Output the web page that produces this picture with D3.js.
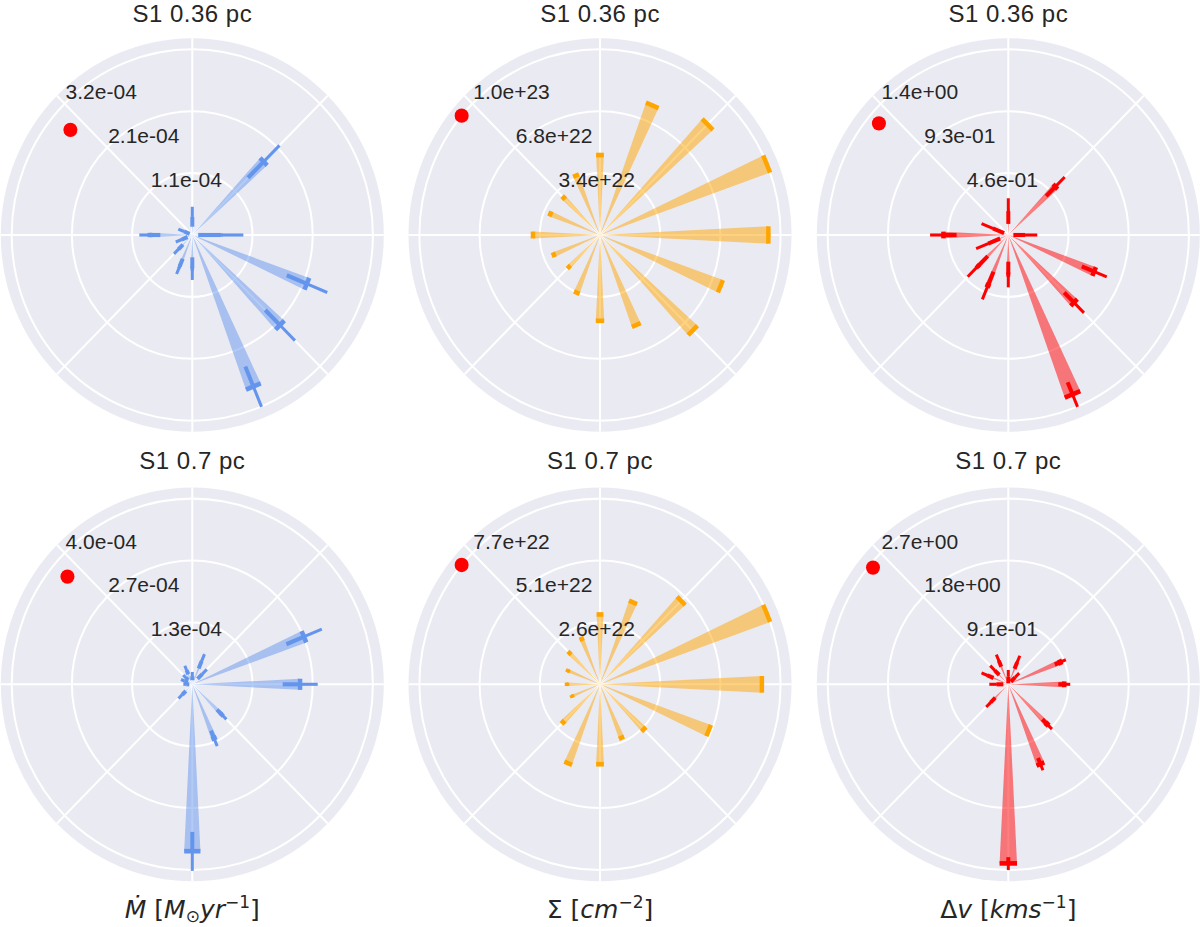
<!DOCTYPE html>
<html>
<head>
<meta charset="utf-8">
<script src="https://cdn.jsdelivr.net/npm/d3@7/dist/d3.min.js"></script>
<style>
body { margin: 0; background: #fff; }
</style>
</head>
<body>
<script>
var w = 1200;
var h = 927;

// 16 directions, degrees counter-clockwise from east
var angles = [0, 22.5, 45, 67.5, 90, 112.5, 135, 157.5, 180, 202.5, 225, 247.5, 270, 292.5, 315, 337.5];

// S1 0.36 pc
var mdot036    = [5.05e-5, 0, 1.79e-4, 0, 3.15e-5, 0, 0, 1.59e-5, 7.53e-5, 2.04e-5, 3.46e-5, 5.85e-5, 5.80e-5, 2.83e-4, 2.20e-4, 2.20e-4];
var mdot036Err = [4.0e-5, 0, 3.95e-5, 0, 1.72e-5, 0, 0, 1.09e-5, 1.86e-5, 1.13e-5, 1.12e-5, 1.42e-5, 1.95e-5, 3.76e-5, 3.73e-5, 3.88e-5];
var sig036     = [9.52e22, 1.02e23, 8.60e22, 7.72e22, 4.40e22, 3.54e22, 2.90e22, 3.04e22, 3.79e22, 2.83e22, 2.49e22, 3.43e22, 4.72e22, 5.36e22, 7.42e22, 7.37e22];
var sig036Err  = [1e21, 1e21, 1e21, 1e21, 5e20, 5e20, 5e20, 5e20, 5e20, 5e20, 5e20, 5e20, 5e20, 5e20, 1e21, 1e21];
var dv036      = [0.131, 0, 0.513, 0, 0.179, 0, 0, 0.129, 0.500, 0.168, 0.333, 0.410, 0.296, 1.293, 0.716, 0.716];
var dv036Err   = [0.092, 0, 0.101, 0, 0.096, 0, 0, 0.094, 0.102, 0.100, 0.109, 0.112, 0.096, 0.100, 0.108, 0.104];

// S1 0.7 pc
var mdot07     = [2.39e-4, 2.68e-4, 3.10e-5, 5.36e-5, 1.77e-5, 3.32e-5, 2.06e-5, 1.88e-5, 1.33e-5, 0, 3.17e-5, 0, 3.60e-4, 1.26e-4, 9.21e-5, 0];
var mdot07Err  = [3.88e-5, 4.25e-5, 1.46e-5, 1.68e-5, 8.9e-6, 1.0e-5, 7.8e-6, 8.2e-6, 6.6e-6, 0, 1.15e-5, 0, 4.2e-5, 1.8e-5, 1.48e-5, 0];
var sig07      = [6.91e22, 7.70e22, 4.90e22, 3.68e22, 2.90e22, 2.04e22, 1.84e22, 1.48e22, 1.41e22, 1.29e22, 2.23e22, 3.55e22, 3.32e22, 2.40e22, 2.64e22, 5.02e22];
var sig07Err   = [8e20, 8e20, 5e20, 5e20, 4e20, 4e20, 4e20, 4e20, 4e20, 4e20, 4e20, 4e20, 4e20, 4e20, 4e20, 6e20];
var dv07       = [0.846, 0.851, 0.144, 0.350, 0.113, 0.375, 0.290, 0.340, 0.181, 0, 0.375, 0, 2.637, 1.270, 0.830, 0];
var dv07Err    = [0.090, 0.091, 0.090, 0.104, 0.098, 0.097, 0.097, 0.098, 0.106, 0, 0.097, 0, 0.095, 0.098, 0.103, 0];

// radial ticks (outer tick value) and their labels
var tickMax = [3.2e-4, 1.02e23, 1.39, 4.0e-4, 7.7e22, 2.73];
var tickLabels = [
    ["1.1e-04", "2.1e-04", "3.2e-04"],
    ["3.4e+22", "6.8e+22", "1.0e+23"],
    ["4.6e-01", "9.3e-01", "1.4e+00"],
    ["1.3e-04", "2.7e-04", "4.0e-04"],
    ["2.6e+22", "5.1e+22", "7.7e+22"],
    ["9.1e-01", "1.8e+00", "2.7e+00"]
];

// red marker
var dotAngle = 140;
var dotValue = [2.82e-4, 1.02e23, 1.30, 3.61e-4, 7.7e22, 2.67];

var titles = ["S1 0.36 pc", "S1 0.7 pc"];
var colors = ["cornflowerblue", "orange", "red"];

var values = [mdot036, sig036, dv036, mdot07, sig07, dv07];
var errors = [mdot036Err, sig036Err, dv036Err, mdot07Err, sig07Err, dv07Err];

// layout
var cxs = [192.3, 600, 1008.3];
var cys = [235, 684.3];
var R = 191.5;        // edge of the polar disk
var rTick = 180.6;    // radius of the outer tick ring
var k = 1.028;        // the figure is slightly stretched vertically
var barW = 0.1;       // angular width of bars (rad)

var svg = d3.select("body")
    .append("svg")
    .attr("width", w)
    .attr("height", h)
    .style("font-family", "'Liberation Sans', Arial, sans-serif");

var rad = function(deg){ return deg * Math.PI / 180; };

values.forEach(function(vals, p){
    var col = p % 3, row = Math.floor(p / 3);
    var cx = cxs[col], cy = cys[row];
    var color = colors[col];
    var errs = errors[p];

    var r = d3.scaleLinear().domain([0, tickMax[p]]).range([0, rTick]);
    var ticks = [tickMax[p] / 3, tickMax[p] * 2 / 3, tickMax[p]];

    var g = svg.append("g")
        .attr("transform", "translate(" + cx + "," + cy + ") scale(1," + k + ")");

    g.append("circle").attr("r", R).attr("fill", "#EAEAF2");

    g.selectAll(".ring")
        .data(ticks)
        .enter()
        .append("circle")
        .attr("r", function(d){ return r(d); })
        .attr("fill", "none")
        .attr("stroke", "white")
        .attr("stroke-width", 2);

    g.selectAll(".spoke")
        .data([0, 45, 90, 135, 180, 225, 270, 315])
        .enter()
        .append("line")
        .attr("x1", 0).attr("y1", 0)
        .attr("x2", function(d){ return R * Math.cos(rad(d)); })
        .attr("y2", function(d){ return -R * Math.sin(rad(d)); })
        .attr("stroke", "white")
        .attr("stroke-width", 2);

    var arc = d3.arc().innerRadius(0);

    // bars
    g.selectAll(".bar")
        .data(vals)
        .enter()
        .append("path")
        .attr("d", function(d, i){
            var a = Math.PI / 2 - rad(angles[i]);
            return arc({outerRadius: r(d), startAngle: a - barW / 2, endAngle: a + barW / 2});
        })
        .attr("fill", color)
        .attr("fill-opacity", 0.5);

    // radial error, inner half
    g.selectAll(".errIn")
        .data(vals)
        .enter()
        .append("line")
        .attr("x1", function(d, i){ return r(Math.max(0, d - errs[i])) * Math.cos(rad(angles[i])); })
        .attr("y1", function(d, i){ return -r(Math.max(0, d - errs[i])) * Math.sin(rad(angles[i])); })
        .attr("x2", function(d, i){ return r(d) * Math.cos(rad(angles[i])); })
        .attr("y2", function(d, i){ return -r(d) * Math.sin(rad(angles[i])); })
        .attr("stroke", color)
        .attr("stroke-width", 4);

    // radial error, outer half
    g.selectAll(".errOut")
        .data(vals)
        .enter()
        .append("line")
        .attr("x1", function(d, i){ return r(d) * Math.cos(rad(angles[i])); })
        .attr("y1", function(d, i){ return -r(d) * Math.sin(rad(angles[i])); })
        .attr("x2", function(d, i){ return r(d + errs[i]) * Math.cos(rad(angles[i])); })
        .attr("y2", function(d, i){ return -r(d + errs[i]) * Math.sin(rad(angles[i])); })
        .attr("stroke", color)
        .attr("stroke-width", 3);

    // angular error (bar width) at the bar end
    g.selectAll(".errAng")
        .data(vals)
        .enter()
        .append("line")
        .attr("x1", function(d, i){ return r(d) * Math.cos(rad(angles[i]) - barW / 2); })
        .attr("y1", function(d, i){ return -r(d) * Math.sin(rad(angles[i]) - barW / 2); })
        .attr("x2", function(d, i){ return r(d) * Math.cos(rad(angles[i]) + barW / 2); })
        .attr("y2", function(d, i){ return -r(d) * Math.sin(rad(angles[i]) + barW / 2); })
        .attr("stroke", color)
        .attr("stroke-width", function(d){ return d > 0 ? 4.5 : 0; });

    g.append("circle")
        .attr("cx", r(dotValue[p]) * Math.cos(rad(dotAngle)))
        .attr("cy", -r(dotValue[p]) * Math.sin(rad(dotAngle)))
        .attr("r", 7)
        .attr("fill", "red");

    // radial tick labels along 135 deg
    svg.selectAll(".lab" + p)
        .data(ticks)
        .enter()
        .append("text")
        .attr("x", function(d){ return cx + r(d) * Math.cos(rad(135)) + 1; })
        .attr("y", function(d){ return cy - r(d) * Math.sin(rad(135)) * k - 4.5; })
        .attr("font-size", "21px")
        .attr("fill", "#262626")
        .text(function(d, i){ return tickLabels[p][i]; });

    svg.append("text")
        .attr("x", cx)
        .attr("y", row === 0 ? 22 : 469)
        .attr("text-anchor", "middle")
        .attr("font-size", "24px")
        .attr("letter-spacing", "0.5px")
        .attr("fill", "#262626")
        .text(titles[row]);
});

// axis labels under the bottom row
var mathFont = "'DejaVu Sans', sans-serif";
var labelY = 918;

var t1 = svg.append("text").attr("x", cxs[0]).attr("y", labelY).attr("text-anchor", "middle")
    .attr("font-family", mathFont).attr("font-size", "25px").attr("fill", "#262626");
t1.append("tspan").attr("font-style", "italic").text("Ṁ");
t1.append("tspan").text(" [");
t1.append("tspan").attr("font-style", "italic").text("M");
t1.append("tspan").attr("font-size", "17px").attr("dy", 4).text("⊙");
t1.append("tspan").attr("font-style", "italic").attr("dy", -4).text("yr");
t1.append("tspan").attr("font-size", "17px").attr("dy", -10).text("−1");
t1.append("tspan").attr("dy", 10).text("]");

var t2 = svg.append("text").attr("x", cxs[1]).attr("y", labelY).attr("text-anchor", "middle")
    .attr("font-family", mathFont).attr("font-size", "25px").attr("fill", "#262626");
t2.append("tspan").text("Σ [");
t2.append("tspan").attr("font-style", "italic").text("cm");
t2.append("tspan").attr("font-size", "17px").attr("dy", -10).text("−2");
t2.append("tspan").attr("dy", 10).text("]");

var t3 = svg.append("text").attr("x", cxs[2]).attr("y", labelY).attr("text-anchor", "middle")
    .attr("font-family", mathFont).attr("font-size", "25px").attr("fill", "#262626");
t3.append("tspan").text("Δ");
t3.append("tspan").attr("font-style", "italic").text("v");
t3.append("tspan").text(" [");
t3.append("tspan").attr("font-style", "italic").text("kms");
t3.append("tspan").attr("font-size", "17px").attr("dy", -10).text("−1");
t3.append("tspan").attr("dy", 10).text("]");
</script>
</body>
</html>
